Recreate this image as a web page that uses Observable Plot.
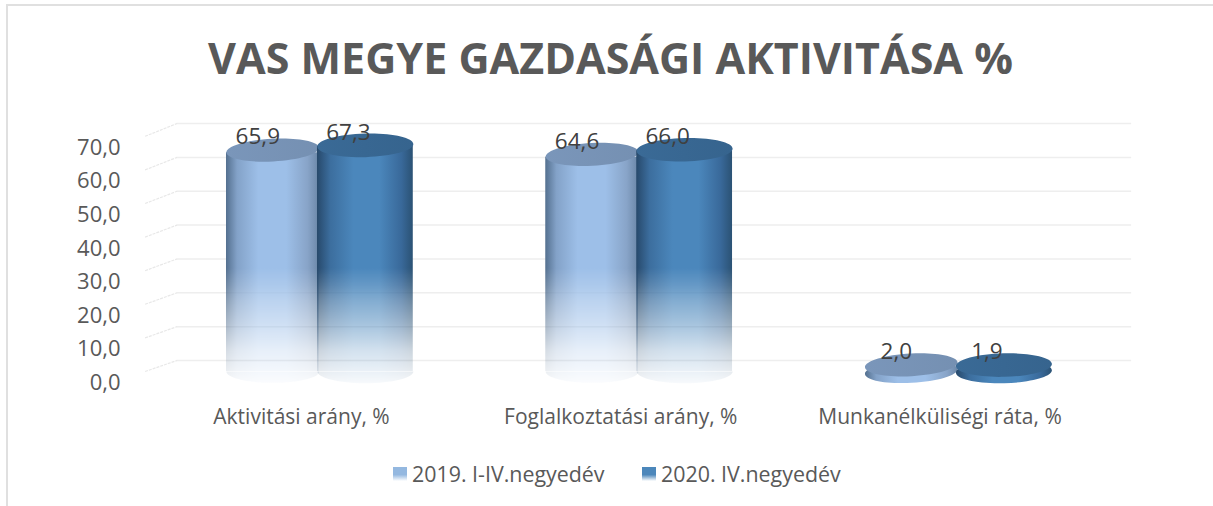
<!DOCTYPE html>
<html lang="hu">
<head>
<meta charset="utf-8">
<script src="https://cdn.jsdelivr.net/npm/d3@7"></script>
<script src="https://cdn.jsdelivr.net/npm/@observablehq/plot@0.6"></script>
<style>
html,body{margin:0;padding:0;background:#fff;overflow:hidden}
#box{position:absolute;left:6px;top:4px;width:1300px;height:600px;border:2px solid #e0e0e0;box-sizing:border-box}
#wrap{position:relative;width:1213px;height:506px;font-family:"Open Sans",sans-serif;color:#595959}
#title{height:100px;box-sizing:border-box;padding-top:30px;padding-left:8px;text-align:center;font-size:43px;line-height:56px;font-weight:700;position:relative}
#chart{height:345px;position:relative}
#chart svg{display:block}
#legend{position:relative;height:61px;font-size:21.4px;line-height:28px}
.item{position:absolute;top:15px;white-space:nowrap}
.sw{position:absolute;top:7px;left:-19px;width:14px;height:14px}
</style>
</head>
<body>
<div id="box"></div>
<div id="wrap">
<div id="title">VAS MEGYE GAZDASÁGI AKTIVITÁSA %</div>
<div id="chart"></div>
<div id="legend">
<div class="item" style="left:412px"><span class="sw" style="background:linear-gradient(#94b8e0 0%,#94b8e0 55%,#fff 100%)"></span>2019. I-IV.negyedév</div>
<div class="item" style="left:661px"><span class="sw" style="background:linear-gradient(#4c87bb 0%,#4c87bb 55%,#fff 100%)"></span>2020. IV.negyedév</div>
</div>
</div>
<script>
const categories = ["Aktivitási arány, %", "Foglalkoztatási arány, %", "Munkanélküliségi ráta, %"];
const values2019 = [65.9, 64.6, 2.0];
const values2020 = [67.3, 66.0, 1.9];
const yTicks = [0, 10, 20, 30, 40, 50, 60, 70];

const comma = (v) => d3.format(".1f")(v).replace(".", ",");
const toRows = (vals) => vals.map((value, i) => ({i, value}));
const rows2019 = toRows(values2019);
const rows2020 = toRows(values2020);

// Perspective of the 3D chart: the back wall sits a little higher than the front plane.
const wall = (v) => v * 1.0076 + 3.27;
const wallLeft = -0.44, wallRight = 2.55, frontLeft = -0.54;

// Ellipses as Plot dot symbols: the full top cap, and only the lower half for the base.
const RY = 0.245, K = 0.5523;
const ellipse = {
  draw(ctx, size) {
    const rx = Math.sqrt(size / Math.PI), ry = rx * RY;
    ctx.moveTo(-rx, 0);
    ctx.bezierCurveTo(-rx, -ry * K, -rx * K, -ry, 0, -ry);
    ctx.bezierCurveTo(rx * K, -ry, rx, -ry * K, rx, 0);
    ctx.bezierCurveTo(rx, ry * K, rx * K, ry, 0, ry);
    ctx.bezierCurveTo(-rx * K, ry, -rx, ry * K, -rx, 0);
    ctx.closePath();
  }
};
const lowerHalf = {
  draw(ctx, size) {
    const rx = Math.sqrt(size / Math.PI), ry = rx * RY;
    ctx.moveTo(-rx, 0);
    ctx.lineTo(rx, 0);
    ctx.bezierCurveTo(rx, ry * K, rx * K, ry, 0, ry);
    ctx.bezierCurveTo(-rx * K, ry, -rx, ry * K, -rx, 0);
    ctx.closePath();
  }
};

const masked = (index, scales, values, dims, ctx, next) => {
  const g = next(index, scales, values, dims, ctx);
  g.setAttribute("mask", "url(#fade)");
  return g;
};

function cylinder(rows, off, half, tilt, trim, side, cap) {
  const cx = (d) => d.i + off;
  const tall = (d) => d.value > 10;
  const flat = (d) => d.value <= 10;
  const r = half * 320;
  const x1 = (d) => cx(d) - half, x2 = (d) => cx(d) + half;
  return [
    Plot.rectY(rows, {filter: tall, x1, x2, y1: 0, y2: (d) => d.value - trim, fill: `url(#${side})`, render: masked}),
    Plot.dot(rows, {filter: tall, x: cx, y: () => 0, r, symbol: lowerHalf, fill: `url(#${side})`, render: masked}),
    Plot.dot(rows, {filter: flat, x: cx, y: () => 0, r, rotate: tilt, symbol: ellipse, fill: `url(#${side})`}),
    Plot.dot(rows, {x: cx, y: "value", r, rotate: tilt, symbol: ellipse, fill: cap})
  ];
}

function labels(rows, off, dx) {
  return Plot.text(rows, {
    x: (d) => d.i + off, y: "value", text: (d) => comma(d.value),
    dx, dy: -13, fontSize: 22.5, fill: "#404040"
  });
}

const chart = Plot.plot({
  width: 1213, height: 345,
  marginLeft: 120, marginRight: 64, marginTop: 35.8, marginBottom: 74,
  style: {fontFamily: '"Open Sans", sans-serif', background: "transparent", overflow: "visible"},
  x: {domain: [-0.617, 2.606]},
  y: {domain: [0, 70]},
  marks: [
    Plot.ruleY(yTicks, {y: wall, x1: wallLeft, x2: wallRight, stroke: "#eeeeee", strokeWidth: 1.5}),
    Plot.link(yTicks, {x1: frontLeft, x2: wallLeft, y1: (v) => v, y2: wall, stroke: "#e8e8e8", strokeWidth: 1.2, strokeDasharray: "3 1"}),
    ...cylinder(rows2019, -0.14, 0.145, -3, 0.8, "side2019", "url(#cap2019)"),
    ...cylinder(rows2020, 0.15, 0.15, -1.5, 0.3, "side2020", "url(#cap2020)"),
    labels(rows2019, -0.14, -15),
    labels(rows2020, 0.15, -17),
    Plot.axisY({ticks: yTicks, tickFormat: comma, tickSize: 0, tickPadding: 0, dy: 11.5, fontSize: 22, fill: "#595959", label: null}),
    Plot.axisX({ticks: [0, 1, 2], tickFormat: (i) => categories[i], tickSize: 0, tickPadding: 38, dx: -16, fontSize: 21, fill: "#595959", label: null})
  ]
});

const defs = `
<linearGradient id="side2019" x1="0" x2="1" y1="0" y2="0">
 <stop offset="0" stop-color="#54708f"/><stop offset=".12" stop-color="#83a2c8"/><stop offset=".35" stop-color="#9dbfe8"/><stop offset=".65" stop-color="#9dbfe8"/><stop offset=".88" stop-color="#88a4c8"/><stop offset="1" stop-color="#6b87a8"/>
</linearGradient>
<linearGradient id="side2020" x1="0" x2="1" y1="0" y2="0">
 <stop offset="0" stop-color="#27496b"/><stop offset=".14" stop-color="#3c6e9e"/><stop offset=".38" stop-color="#4b87bc"/><stop offset=".65" stop-color="#4b87bc"/><stop offset=".88" stop-color="#39699a"/><stop offset="1" stop-color="#2b5274"/>
</linearGradient>
<linearGradient id="cap2019" x1="0" x2="1" y1="0" y2="0"><stop offset="0" stop-color="#7a96ba"/><stop offset="1" stop-color="#7590b2"/></linearGradient>
<linearGradient id="cap2020" x1="0" x2="1" y1="0" y2="0"><stop offset="0" stop-color="#3a6a96"/><stop offset="1" stop-color="#36648e"/></linearGradient>
<linearGradient id="fadeG" gradientUnits="userSpaceOnUse" x1="0" x2="0" y1="168" y2="282">
 <stop offset="0" stop-color="#fff" stop-opacity="1"/><stop offset=".15" stop-color="#fff" stop-opacity=".85"/><stop offset=".28" stop-color="#fff" stop-opacity=".7"/><stop offset=".54" stop-color="#fff" stop-opacity=".45"/><stop offset=".72" stop-color="#fff" stop-opacity=".25"/><stop offset="1" stop-color="#fff" stop-opacity=".05"/>
</linearGradient>
<mask id="fade" maskUnits="userSpaceOnUse" x="0" y="0" width="1213" height="345"><rect width="1213" height="345" fill="url(#fadeG)"/></mask>`;
const d = document.createElementNS("http://www.w3.org/2000/svg", "defs");
d.innerHTML = defs;
chart.insertBefore(d, chart.firstChild);
document.getElementById("chart").append(chart);
</script>
</body>
</html>
